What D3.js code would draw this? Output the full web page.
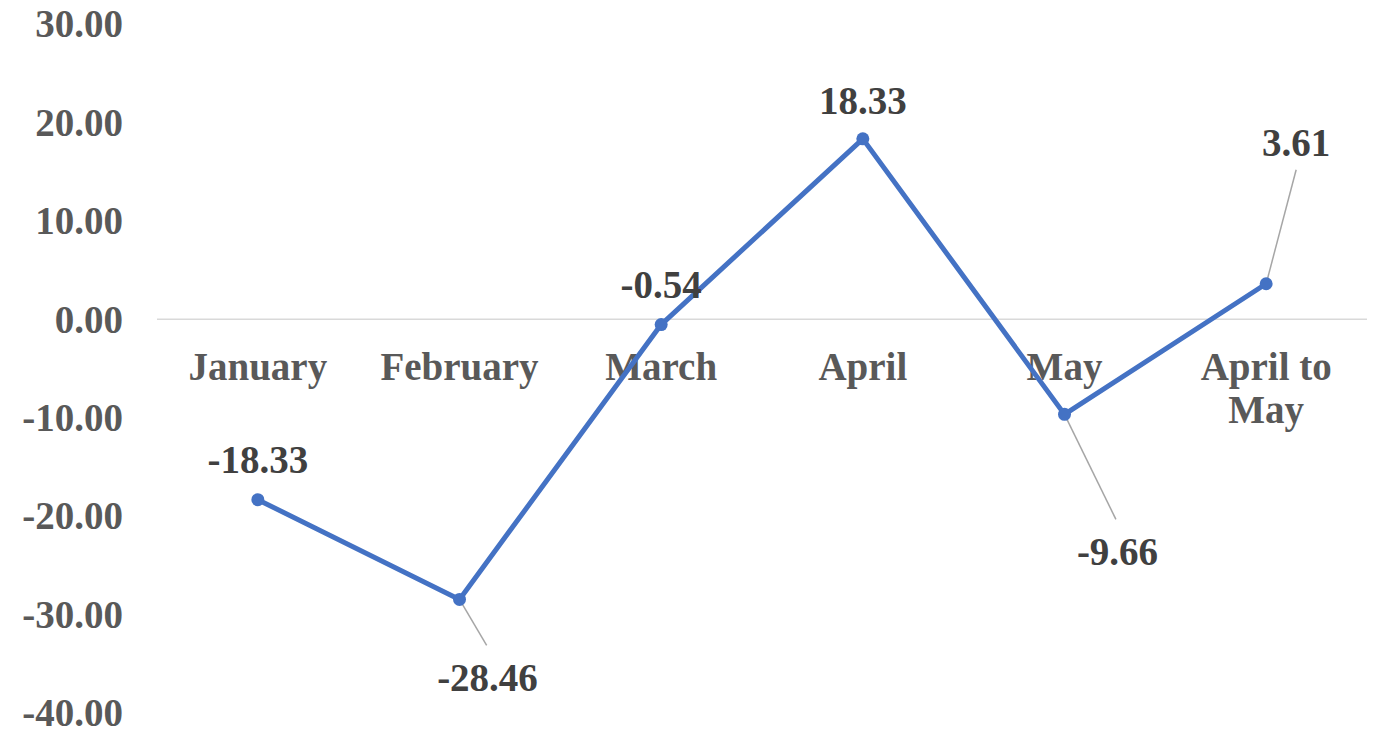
<!DOCTYPE html>
<html><head><meta charset="utf-8">
<script src="https://cdn.jsdelivr.net/npm/d3@7"></script>
<style>body{margin:0;background:#fff}svg{display:block}</style>
</head><body>
<svg id="c" width="1380" height="730"></svg>
<script>
const categories = ["January","February","March","April","May","April to May"];
const values = [-18.33,-28.46,-0.54,18.33,-9.66,3.61];
const yTicks = [30,20,10,0,-10,-20,-30,-40];
// label offsets (dx, dy from point) and whether a leader line is drawn
const labelPos = [
  {dx:0, dy:-40, leader:false},
  {dx:28, dy:78, leader:true},
  {dx:0, dy:-40, leader:false},
  {dx:0, dy:-39, leader:false},
  {dx:53, dy:137, leader:true},
  {dx:30, dy:-141, leader:true}
];

const svg = d3.select("#c");
const font = "'Liberation Serif','Times New Roman',serif";
const fmt = v => d3.format(".2f")(v).replace("\u2212","-");
const x = d3.scaleBand().domain(categories).range([157,1367]);
const y = d3.scaleLinear().domain([-40,30]).range([713,24]);
const cx = d => x(d) + x.bandwidth()/2;

// y axis labels
svg.append("g").selectAll("text").data(yTicks).join("text")
  .attr("x",123).attr("y",d=>y(d)).attr("dy","0.34em")
  .attr("text-anchor","end")
  .attr("font-family",font).attr("font-weight","bold").attr("font-size",39)
  .attr("fill","#595959")
  .text(fmt);

// zero line
svg.append("line").attr("x1",157).attr("x2",1367)
  .attr("y1",y(0)).attr("y2",y(0))
  .attr("stroke","#d9d9d9").attr("stroke-width",1.5);

// category labels
const cat = svg.append("g").selectAll("text").data(categories).join("text")
  .attr("x",d=>cx(d)).attr("y",y(0)+61)
  .attr("text-anchor","middle")
  .attr("font-family",font).attr("font-weight","bold").attr("font-size",39)
  .attr("fill","#595959");
cat.each(function(d){
  const t = d3.select(this);
  if (d === "April to May") {
    t.append("tspan").attr("x",cx(d)).attr("dy","0").text("April to");
    t.append("tspan").attr("x",cx(d)).attr("dy",43).text("May");
  } else t.text(d);
});

// line
const pts = categories.map((c,i)=>({c, v:values[i], p:labelPos[i]}));
svg.append("path").datum(pts)
  .attr("fill","none").attr("stroke","#4472C4").attr("stroke-width",5)
  .attr("stroke-linejoin","round")
  .attr("d", d3.line().x(d=>cx(d.c)).y(d=>y(d.v)));

// leader lines
svg.append("g").selectAll("line").data(pts.filter(d=>d.p.leader)).join("line")
  .attr("x1",d=>cx(d.c)).attr("y1",d=>y(d.v))
  .attr("x2",d=>cx(d.c)+d.p.dx*(d.p.dy>0?0.97:1.0)).attr("y2",d=>y(d.v)+(d.p.dy>0?d.p.dy-32:d.p.dy+27))
  .attr("stroke","#a6a6a6").attr("stroke-width",1.5);

// markers
svg.append("g").selectAll("circle").data(pts).join("circle")
  .attr("cx",d=>cx(d.c)).attr("cy",d=>y(d.v)).attr("r",6.5)
  .attr("fill","#4472C4");

// data labels
svg.append("g").selectAll("text").data(pts).join("text")
  .attr("x",d=>cx(d.c)+d.p.dx).attr("y",d=>y(d.v)+d.p.dy).attr("dy","0.35em")
  .attr("text-anchor","middle")
  .attr("font-family",font).attr("font-weight","bold").attr("font-size",39)
  .attr("fill","#404040")
  .text(d=>fmt(d.v));
</script>
</body></html>
